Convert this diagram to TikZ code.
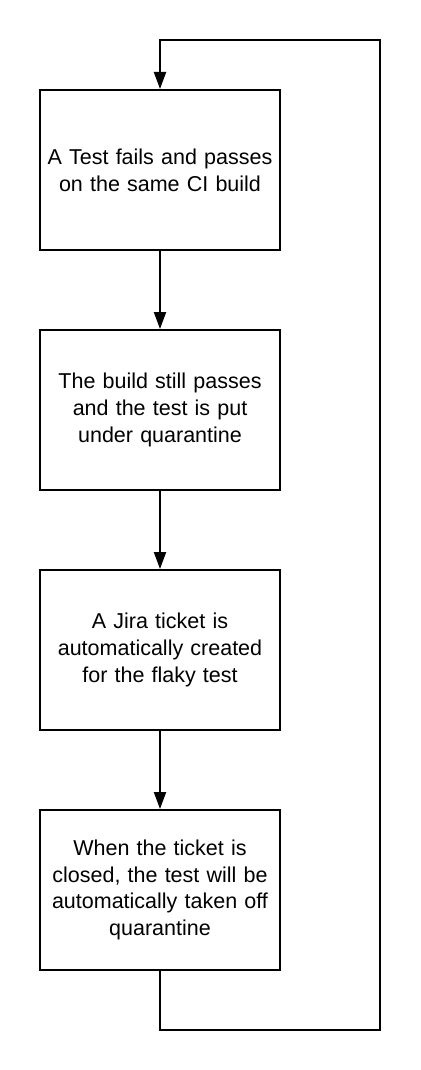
\documentclass[tikz,border=0pt]{standalone}
\usepackage{fontspec}
\setmainfont{Liberation Sans}
\usetikzlibrary{arrows.meta}
\tikzset{
  stepbox/.style={draw=black, line width=2pt, fill=white, rectangle,
    minimum width=240pt, minimum height=160pt, text width=226pt, inner sep=0pt,
    align=center, font=\fontsize{21.5pt}{26.7pt}\selectfont},
  conn/.style={draw=black, line width=2pt, line join=miter,
    -{Triangle[length=17pt,width=12pt]}}
}
\begin{document}
\begin{tikzpicture}[x=1pt,y=-1pt]
\useasboundingbox (0,0) rectangle (420,1070);
\node[stepbox] (b1) at (160,170) {A Test fails and passes\\on the same CI build};
\node[stepbox] (b2) at (160,410) {The build still passes\\and the test is put\\under quarantine};
\node[stepbox] (b3) at (160,650) {A Jira ticket is\\automatically created\\for the flaky test};
\node[stepbox] (b4) at (160,890) {When the ticket is\\closed, the test will be\\automatically taken off\\quarantine};
\coordinate (c1) at (160,1030);
\coordinate (c2) at (380,1030);
\coordinate (c3) at (380,40);
\coordinate (c4) at (160,40);
\draw[conn] (b1) -- (b2);
\draw[conn] (b2) -- (b3);
\draw[conn] (b3) -- (b4);
\draw[conn] (b4.south) -- (c1) -- (c2) -- (c3) -- (c4) -- (b1.north);
\end{tikzpicture}
\end{document}
